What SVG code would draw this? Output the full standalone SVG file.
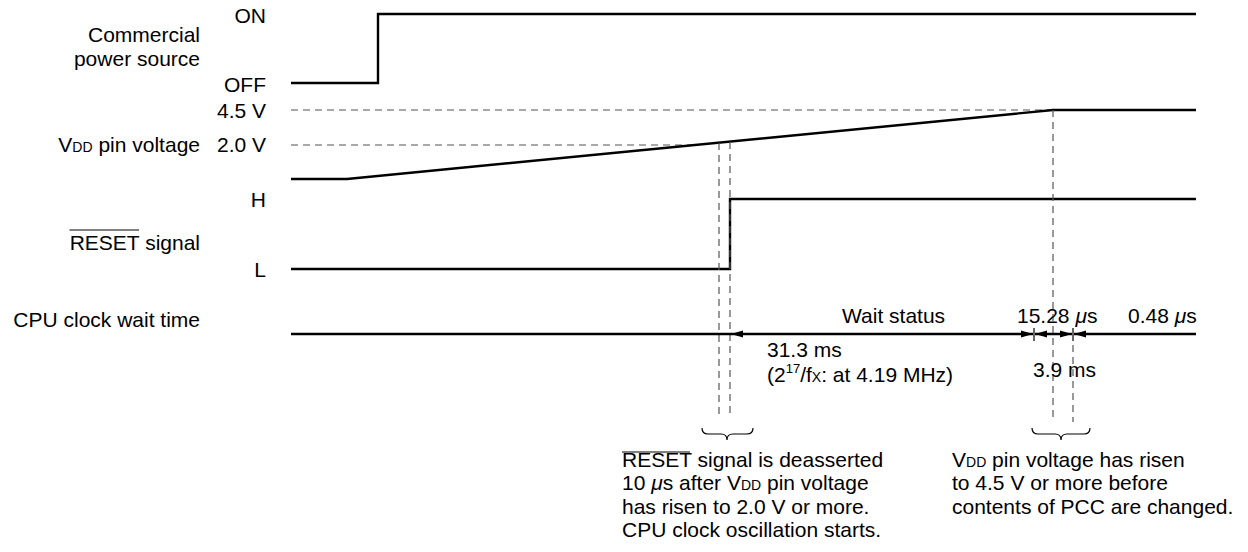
<svg xmlns="http://www.w3.org/2000/svg" width="1248" height="552" viewBox="0 0 1248 552">
<style>
text{font-family:"Liberation Sans",Arial,sans-serif;font-size:21px;fill:#000}
.r{text-anchor:end}
.sub{font-size:14px}
.mu{font-style:italic}
.sup{font-size:13px}
.sig{fill:none;stroke:#000;stroke-width:2.4}
.dash{fill:none;stroke:#555;stroke-width:1.2;stroke-dasharray:7 5}
.thin{fill:none;stroke:#000;stroke-width:1.2}
.brace{fill:none;stroke:#000;stroke-width:1.2}
.arr{fill:none;stroke:#000;stroke-width:2.4;marker-start:url(#ah);marker-end:url(#ah)}
.arrL{fill:none;stroke:#000;stroke-width:2.4;marker-start:url(#ah)}
</style>
<defs>
<marker id="ah" markerUnits="userSpaceOnUse" markerWidth="14" markerHeight="10" refX="12" refY="4" orient="auto-start-reverse">
<path d="M0,0.5 L12,4 L0,7.5 z" fill="#000"/>
</marker>
</defs>
<g id="labels">
<text class="r" x="200" y="42">Commercial</text>
<text class="r" x="200" y="66">power source</text>
<text class="r" x="266" y="23">ON</text>
<text class="r" x="266" y="92">OFF</text>
<text class="r" x="266" y="118">4.5 V</text>
<text class="r" x="266" y="152">2.0 V</text>
<text class="r" x="200" y="152">V<tspan class="sub">DD</tspan> pin voltage</text>
<text class="r" x="266" y="207">H</text>
<text class="r" x="200" y="250">RESET signal</text>
<line class="thin" x1="69.5" y1="230" x2="139" y2="230"/>
<text class="r" x="266" y="277">L</text>
<text class="r" x="200" y="327">CPU clock wait time</text>
</g>
<g id="power-source">
<path class="sig" d="M291,83 H378 V14 H1196"/>
</g>
<g id="vdd">
<line class="dash" x1="291" y1="110" x2="1053" y2="110"/>
<line class="dash" x1="291" y1="145" x2="694" y2="145"/>
<path class="sig" d="M291,179 H347 L1053,110 H1196"/>
</g>
<g id="reset">
<path class="sig" d="M291,269 H730 V199 H1196"/>
</g>
<g id="connectors">
<line class="dash" x1="719" y1="143" x2="719" y2="418"/>
<line class="dash" x1="730" y1="142" x2="730" y2="418"/>
<line class="dash" x1="1053" y1="110" x2="1053" y2="422"/>
<line class="dash" x1="1073" y1="345" x2="1073" y2="422"/>
<line class="thin" x1="1034" y1="328" x2="1034" y2="341"/>
<line class="thin" x1="1073" y1="328" x2="1073" y2="341"/>
<path class="sig" d="M291,334 H731"/>
<path class="arr" d="M731,334 H1033"/>
<path class="arr" d="M1035,334 H1072"/>
<path class="arrL" d="M1074,334 H1196"/>
<path class="brace" d="M702,428 Q702,434 708,434 H721 Q727,434 727,440 Q727,434 733,434 H747 Q753,434 753,428"/>
<path class="brace" d="M1032,428 Q1032,434 1038,434 H1055 Q1061,434 1061,440 Q1061,434 1067,434 H1084 Q1090,434 1090,428"/>
</g>
<g id="wait-labels">
<text x="842" y="323">Wait status</text>
<text x="1017" y="323">15.28 <tspan class="mu">μ</tspan>s</text>
<text x="1128" y="323">0.48 <tspan class="mu">μ</tspan>s</text>
<text x="767" y="357">31.3 ms</text>
<text x="767" y="382">(2<tspan class="sup" dy="-9">17</tspan><tspan dy="9">/f</tspan><tspan class="sub">X</tspan>: at 4.19 MHz)</text>
<text x="1033" y="377">3.9 ms</text>
</g>
<g id="note-left">
<text x="622" y="467">RESET signal is deasserted</text>
<line class="thin" x1="622" y1="452" x2="690" y2="452"/>
<text x="622" y="490">10 <tspan class="mu">μ</tspan>s after V<tspan class="sub">DD</tspan> pin voltage</text>
<text x="622" y="514">has risen to 2.0 V or more.</text>
<text x="622" y="537">CPU clock oscillation starts.</text>
</g>
<g id="note-right">
<text x="952" y="467">V<tspan class="sub">DD</tspan> pin voltage has risen</text>
<text x="952" y="490">to 4.5 V or more before</text>
<text x="952" y="514">contents of PCC are changed.</text>
</g>
</svg>
